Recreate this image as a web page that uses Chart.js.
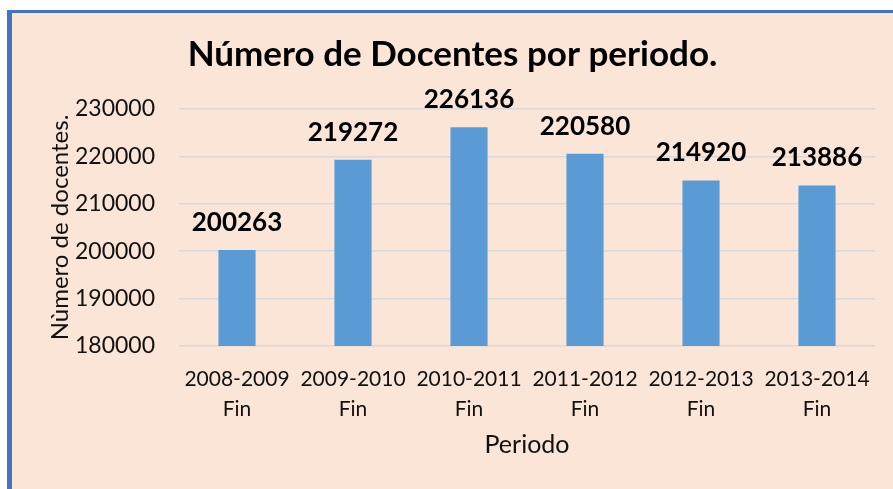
<!DOCTYPE html>
<html>
<head>
<meta charset="utf-8">
<script src="https://cdn.jsdelivr.net/npm/chart.js@4"></script>
<style>
  html, body { margin: 0; padding: 0; background: #ffffff; overflow: hidden; }
  #frame {
    position: absolute; left: 7px; top: 10px;
    width: 881px; height: 476px;
    border-left: 5px solid #4472C4; border-top: 3px solid #4472C4;
    background: #FBE5D6;
  }
  #c { display: block; }
</style>
</head>
<body>
<div id="frame"><canvas id="c" width="881" height="476"></canvas></div>
<script>
const categories = [
  ["2008-2009", "Fin"],
  ["2009-2010", "Fin"],
  ["2010-2011", "Fin"],
  ["2011-2012", "Fin"],
  ["2012-2013", "Fin"],
  ["2013-2014", "Fin"]
];
const docentes = [200263, 219272, 226136, 220580, 214920, 213886];
const yMin = 180000;
const yMax = 230000;
const yStep = 10000;

const FONT = "Lato, 'Open Sans', sans-serif";

const dataLabels = {
  id: 'dataLabels',
  afterDatasetsDraw(chart) {
    const ctx = chart.ctx;
    const meta = chart.getDatasetMeta(0);
    ctx.save();
    ctx.font = "bold 26px " + FONT;
    ctx.fillStyle = '#000';
    ctx.textAlign = 'center';
    ctx.textBaseline = 'alphabetic';
    meta.data.forEach((bar, i) => {
      ctx.fillText(String(chart.data.datasets[0].data[i]), bar.x, bar.y - 19);
    });
    ctx.restore();
  }
};

new Chart(document.getElementById('c'), {
  type: 'bar',
  data: {
    labels: categories,
    datasets: [{
      data: docentes,
      backgroundColor: '#5B9BD5',
      borderWidth: 0,
      categoryPercentage: 1,
      barPercentage: 0.32
    }]
  },
  options: {
    responsive: false,
    animation: false,
    layout: { padding: { left: 0, right: 0, top: 0, bottom: 20 } },
    plugins: {
      legend: { display: false },
      tooltip: { enabled: false },
      title: {
        display: true,
        text: 'Número de Docentes por periodo.',
        color: '#000',
        font: { family: FONT, size: 35, weight: 'bold', lineHeight: 1.2 },
        padding: { top: 21, bottom: 33 }
      }
    },
    scales: {
      x: {
        grid: { display: false },
        border: { display: false },
        ticks: {
          color: '#111',
          font: { family: FONT, size: 21, lineHeight: 1.4 },
          padding: 11,
          maxRotation: 0,
          autoSkip: false
        },
        title: {
          display: true,
          text: 'Periodo',
          color: '#111',
          font: { family: FONT, size: 25, lineHeight: 1.2 },
          padding: { top: 9, bottom: 9 }
        },
        afterFit(scale) { scale.height = 123; }
      },
      y: {
        min: yMin,
        max: yMax,
        grid: { color: '#D9D9D9', lineWidth: 1.5, drawTicks: false },
        border: { display: false },
        ticks: {
          stepSize: yStep,
          color: '#111',
          font: { family: FONT, size: 23 },
          padding: 24,
          callback: (v) => String(v)
        },
        title: {
          display: true,
          text: 'Nùmero de docentes.',
          color: '#111',
          font: { family: FONT, size: 24, lineHeight: 1.2 },
          padding: { top: 33.6, bottom: 33.6 }
        },
        afterFit(scale) { scale.width = 167; }
      },
      yRightSpacer: {
        position: 'right',
        display: true,
        grid: { display: false },
        border: { display: false },
        ticks: { display: false },
        afterFit(scale) { scale.width = 18; }
      }
    }
  },
  plugins: [dataLabels]
});
</script>
</body>
</html>
